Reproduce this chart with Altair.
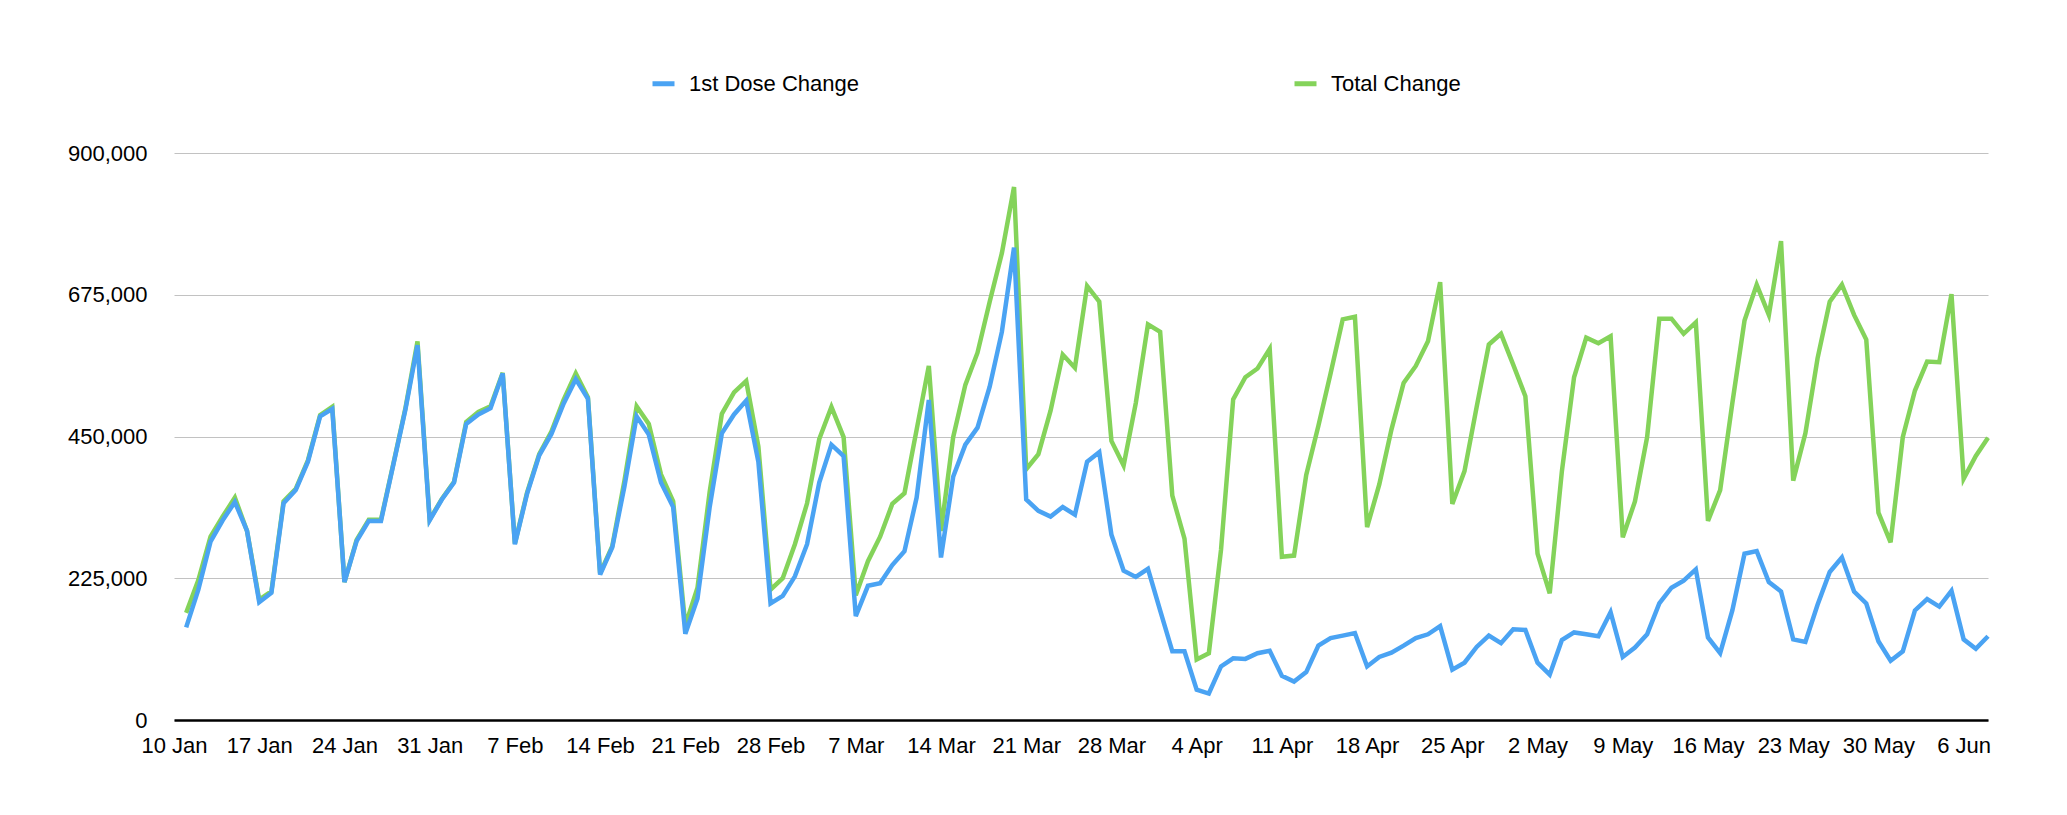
import altair as alt
import pandas as pd

# ---- data ----
start_date = "2021-01-11"          # first plotted day (10 Jan is the axis origin)
series_names = ["1st Dose Change", "Total Change"]

first_dose_k = [
    147, 207, 283, 317, 346, 300, 187, 202, 344, 365, 410, 482, 494, 219,
    284, 316, 316, 404, 492, 595, 317, 350, 377, 470, 485, 495, 550, 279,
    359, 420, 454, 502, 541, 510, 231, 274, 371, 482, 453, 377, 338, 137,
    193, 338, 455, 485, 507, 410, 185, 197, 228, 279, 377, 437, 419, 165,
    213, 217, 246, 268, 353, 508, 258, 386, 437, 464, 529, 616, 750, 350,
    332, 323, 338, 326, 410, 425, 294, 237, 227, 240, 174, 109, 109, 48,
    42, 85, 98, 97, 106, 110, 70, 61, 76, 118, 130, 134, 138, 85,
    100, 107, 118, 130, 136, 149, 80, 91, 116, 134, 122, 144, 143, 91,
    72, 127, 139, 136, 133, 171, 100, 115, 136, 185, 210, 221, 239, 131,
    106, 174, 264, 268, 219, 204, 128, 124, 183, 235, 258, 204, 185, 125,
    94, 109, 174, 192, 180, 205, 128, 113, 133,
]

total_k = [
    170, 222, 291, 323, 353, 300, 191, 204, 347, 367, 412, 484, 497, 219,
    286, 318, 318, 405, 494, 601, 318, 351, 378, 473, 489, 498, 551, 280,
    361, 422, 458, 508, 550, 512, 233, 276, 380, 498, 470, 390, 347, 150,
    210, 362, 486, 520, 538, 434, 207, 225, 279, 344, 446, 497, 449, 198,
    252, 291, 343, 360, 461, 562, 300, 449, 532, 583, 664, 741, 846, 398,
    422, 491, 580, 559, 689, 664, 443, 404, 503, 628, 616, 356, 288, 96,
    106, 270, 509, 544, 558, 589, 259, 261, 389, 467, 550, 636, 640, 306,
    374, 461, 535, 562, 601, 695, 343, 395, 497, 596, 613, 564, 514, 264,
    201, 395, 544, 607, 598, 609, 290, 347, 449, 637, 637, 613, 631, 316,
    365, 503, 634, 691, 643, 760, 380, 455, 574, 664, 691, 643, 604, 329,
    282, 449, 523, 569, 568, 676, 383, 419, 448,
]

y_ticks = [0, 225000, 450000, 675000, 900000]
x_tick_start, x_tick_end = "2021-01-10", "2021-06-06"
x_domain = ["2021-01-10", "2021-06-08"]

BLUE = "#4aa3f3"
GREEN = "#84d35a"
FONT = "Liberation Sans"

# ---- table ----
n = len(first_dose_k)
dates = pd.date_range(start_date, periods=n, freq="D").strftime("%Y-%m-%d").tolist()
df = pd.DataFrame({
    "date": dates + dates,
    "value": [v * 1000 for v in first_dose_k] + [v * 1000 for v in total_k],
    "series": [series_names[0]] * n + [series_names[1]] * n,
})


def dt(s):
    t = pd.Timestamp(s)
    return alt.DateTime(year=t.year, month=t.month, date=t.day, utc=True)


tick_dates = [dt(d) for d in pd.date_range(x_tick_start, x_tick_end, freq="7D")]

x_enc = alt.X(
    "date:T",
    scale=alt.Scale(type="utc", domain=[dt(x_domain[0]), dt(x_domain[1])]),
    axis=alt.Axis(
        values=tick_dates, format="%-d %b", title=None, grid=False, ticks=False,
        domain=True, domainColor="#000000", domainWidth=2.5, labelPadding=15,
        labelFlush=False, labelOverlap=False,
    ),
)
y_enc = alt.Y(
    "value:Q",
    scale=alt.Scale(domain=[0, 900000], nice=False),
    axis=alt.Axis(
        values=y_ticks, format=",d", title=None, grid=True, gridColor="#c2c2c2",
        gridWidth=1, ticks=False, domain=False, labelPadding=27,
    ),
)
legend = alt.Legend(
    title=None, orient="none", direction="horizontal", legendX=476, legendY=-83,
    symbolType="stroke", symbolStrokeWidth=5, symbolSize=484,
    labelFont=FONT, labelFontSize=22, labelColor="#000000",
    labelOffset=12, columnPadding=425, labelLimit=400,
)
color_enc = alt.Color(
    "series:N",
    scale=alt.Scale(domain=series_names, range=[BLUE, GREEN]),
    legend=legend,
)

base = alt.Chart(df)
green_line = base.transform_filter(
    alt.datum.series == series_names[1]
).mark_line(strokeWidth=4.5, strokeJoin="miter").encode(x=x_enc, y=y_enc, color=color_enc)
blue_line = base.transform_filter(
    alt.datum.series == series_names[0]
).mark_line(strokeWidth=4.5, strokeJoin="miter").encode(x=x_enc, y=y_enc, color=color_enc)

chart = alt.layer(green_line, blue_line).properties(
    width=1814,
    height=567,
    padding={"left": 166, "top": 145, "right": 60, "bottom": 80},
    autosize=alt.AutoSizeParams(type="none"),
    background="white",
).configure_view(stroke=None).configure_axis(
    labelFont=FONT, labelFontSize=22, labelColor="#000000",
)

chart.save("out.html", embed_options={"renderer": "svg", "actions": False})
